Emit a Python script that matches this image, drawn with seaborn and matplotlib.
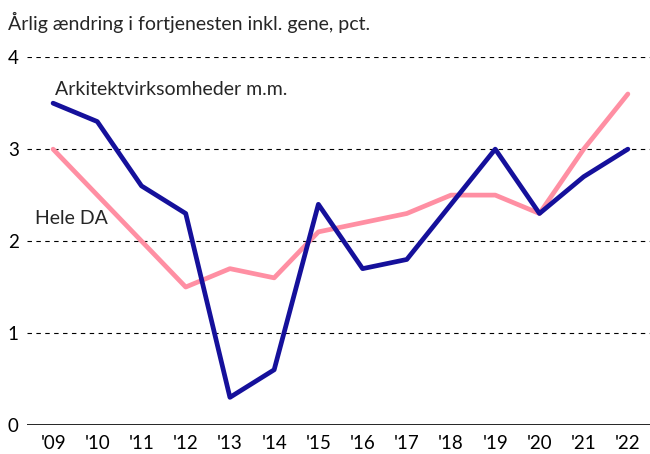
import matplotlib
matplotlib.use("Agg")
import matplotlib.pyplot as plt
import seaborn as sns
import pandas as pd

years = list(range(2009, 2023))
tick_labels = ["'09", "'10", "'11", "'12", "'13", "'14", "'15", "'16", "'17", "'18", "'19", "'20", "'21", "'22"]
arkitekt = [3.5, 3.3, 2.6, 2.3, 0.3, 0.6, 2.4, 1.7, 1.8, 2.4, 3.0, 2.3, 2.7, 3.0]
hele_da = [3.0, 2.5, 2.0, 1.5, 1.7, 1.6, 2.1, 2.2, 2.3, 2.5, 2.5, 2.3, 3.0, 3.6]

df = pd.DataFrame({
    "year": years * 2,
    "value": hele_da + arkitekt,
    "serie": ["Hele DA"] * len(years) + ["Arkitektvirksomheder m.m."] * len(years),
})

sns.set_style("white")
plt.rcParams["font.family"] = ["Lato", "DejaVu Sans"]

fig = plt.figure(figsize=(6.5, 4.54), dpi=100)
ax = fig.add_axes([0.0415, 0.064, 0.9585, 0.81])

palette = {"Hele DA": "#ff8fa3", "Arkitektvirksomheder m.m.": "#15109b"}
sns.lineplot(data=df, x="year", y="value", hue="serie", palette=palette,
             linewidth=3.4, legend=False, ax=ax)

ax.set_ylim(0, 4)
ax.set_xlim(2008.41, 2022.5)
ax.set_yticks([0, 1, 2, 3, 4])
ax.set_xticks(years)
ax.set_xticklabels(tick_labels)
for y in [1, 2, 3, 4]:
    ax.axhline(y, color="black", linewidth=0.8, linestyle=(0, (4, 4)), zorder=0)
ax.axhline(0, color="black", linewidth=1.2, zorder=3)
for s in ax.spines.values():
    s.set_visible(False)
ax.tick_params(axis="both", length=0, labelsize=13.5, colors="black")
ax.tick_params(axis="x", pad=7)
ax.tick_params(axis="y", pad=6)
ax.set_xlabel("")
ax.set_ylabel("")

fig.text(0.012, 0.95, "Årlig ændring i fortjenesten inkl. gene, pct.", fontsize=14, va="center")
ax.text(2009.05, 3.65, "Arkitektvirksomheder m.m.", fontsize=14, va="center")
ax.text(2008.6, 2.25, "Hele DA", fontsize=14, va="center")

fig.savefig("out.png", dpi=100)
